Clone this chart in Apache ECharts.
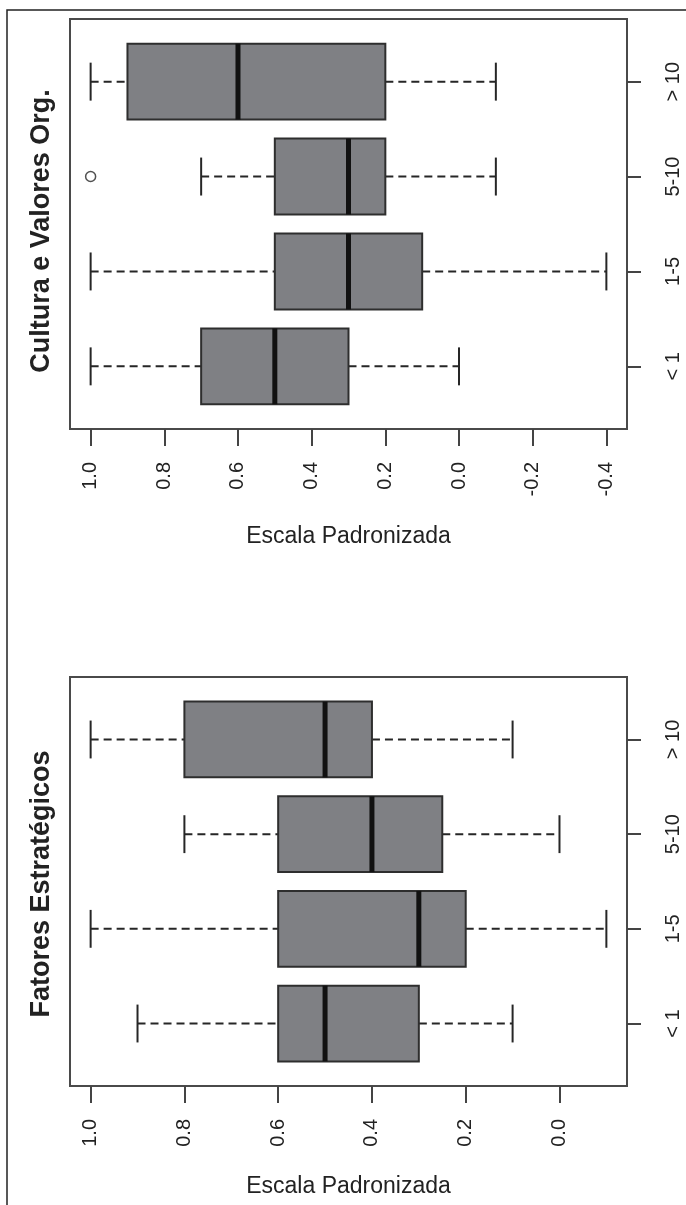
<!DOCTYPE html>
<html>
<head>
<meta charset="utf-8">
<script src="https://cdn.jsdelivr.net/npm/echarts@6/dist/echarts.min.js"></script>
<style>
html,body{margin:0;padding:0;background:#fff;}
#chart{width:686px;height:1205px;}
</style>
</head>
<body>
<div id="chart"></div>
<script>
// ---- data ----
const categories = ['< 1', '1-5', '5-10', '> 10'];
// [lower whisker, Q1, median, Q3, upper whisker]
const culturaStats = [
  [0.0, 0.3, 0.5, 0.7, 1.0],
  [-0.4, 0.1, 0.3, 0.5, 1.0],
  [-0.1, 0.2, 0.3, 0.5, 0.7],
  [-0.1, 0.2, 0.6, 0.9, 1.0]
];
const culturaOutliers = [['5-10', 1.0]];
const fatoresStats = [
  [0.1, 0.3, 0.5, 0.6, 0.9],
  [-0.1, 0.2, 0.3, 0.6, 1.0],
  [0.0, 0.25, 0.4, 0.6, 0.8],
  [0.1, 0.4, 0.5, 0.8, 1.0]
];
const fatoresOutliers = [];
const culturaTicks = [1.0, 0.8, 0.6, 0.4, 0.2, 0.0, -0.2, -0.4];
const fatoresTicks = [1.0, 0.8, 0.6, 0.4, 0.2, 0.0];
const titles = ['Cultura e Valores Org.', 'Fatores Estratégicos'];
const axisName = 'Escala Padronizada';

// ---- chart ----
const FONT = '"Liberation Sans", Arial, sans-serif';
const catPos = categories.map((c, i) => i + 1);
const chart = echarts.init(document.getElementById('chart'), null, {renderer: 'canvas'});

function renderBox(params, api) {
  const pos = api.value(0);
  const lo = api.value(1), q1 = api.value(2), med = api.value(3), q3 = api.value(4), hi = api.value(5);
  const half = api.size([0, 0.4])[1];
  const cap = api.size([0, 0.2])[1];
  const c = v => api.coord([v, pos]);
  const pLo = c(lo), pQ1 = c(q1), pMed = c(med), pQ3 = c(q3), pHi = c(hi);
  const y = pMed[1];
  const dash = {stroke: '#262626', lineWidth: 2, lineDash: [8, 5]};
  const solid = {stroke: '#262626', lineWidth: 2};
  return {
    type: 'group',
    children: [
      {type: 'line', shape: {x1: pHi[0], y1: y, x2: pQ3[0], y2: y}, style: dash},
      {type: 'line', shape: {x1: pQ1[0], y1: y, x2: pLo[0], y2: y}, style: dash},
      {type: 'line', shape: {x1: pHi[0], y1: y - cap, x2: pHi[0], y2: y + cap}, style: solid},
      {type: 'line', shape: {x1: pLo[0], y1: y - cap, x2: pLo[0], y2: y + cap}, style: solid},
      {type: 'rect', shape: {x: Math.min(pQ1[0], pQ3[0]), y: y - half, width: Math.abs(pQ1[0] - pQ3[0]), height: 2 * half},
        style: {fill: '#7f8084', stroke: '#2e2e2e', lineWidth: 2}},
      {type: 'line', shape: {x1: pMed[0], y1: y - half, x2: pMed[0], y2: y + half}, style: {stroke: '#111', lineWidth: 5}}
    ]
  };
}

function mkX(gi, min, max, ticks, gap) {
  return {
    type: 'value', gridIndex: gi, inverse: true, min: min, max: max,
    splitLine: {show: false},
    axisLine: {show: false, onZero: false},
    axisTick: {show: true, length: 17, customValues: ticks, lineStyle: {color: '#444', width: 2}},
    axisLabel: {customValues: ticks, rotate: 90, margin: 33, fontSize: 20, color: '#222', fontFamily: FONT,
      formatter: v => (Math.abs(v) < 1e-9 ? 0 : v).toFixed(1)},
    name: axisName, nameLocation: 'middle', nameGap: gap,
    nameTextStyle: {fontSize: 23, color: '#222', fontFamily: FONT}
  };
}
function mkY(gi) {
  return {
    type: 'value', gridIndex: gi, position: 'right', min: 0.34, max: 4.66,
    splitLine: {show: false},
    axisLine: {show: false, onZero: false},
    axisTick: {show: true, length: 14, customValues: catPos, lineStyle: {color: '#444', width: 2}},
    axisLabel: {customValues: catPos, rotate: 90, margin: 36, fontSize: 20, color: '#222', fontFamily: FONT,
      formatter: v => categories[Math.round(v) - 1]}
  };
}

const boxData = stats => stats.map((s, i) => [catPos[i]].concat(s));
const outData = outs => outs.map(o => [o[1], categories.indexOf(o[0]) + 1]);

const option = {
  animation: false,
  backgroundColor: '#fff',
  grid: [
    {left: 70, top: 19, width: 557, height: 410, show: true, borderColor: '#4a4a4a', borderWidth: 2, backgroundColor: 'transparent'},
    {left: 70, top: 677, width: 557, height: 409, show: true, borderColor: '#4a4a4a', borderWidth: 2, backgroundColor: 'transparent'}
  ],
  xAxis: [mkX(0, -0.456, 1.056, culturaTicks, 96), mkX(1, -0.144, 1.044, fatoresTicks, 89)],
  yAxis: [mkY(0), mkY(1)],
  series: [
    {type: 'custom', xAxisIndex: 0, yAxisIndex: 0, renderItem: renderBox, data: boxData(culturaStats),
      encode: {x: [1, 2, 3, 4, 5], y: 0}},
    {type: 'scatter', xAxisIndex: 0, yAxisIndex: 0, data: outData(culturaOutliers), symbol: 'circle', symbolSize: 10,
      itemStyle: {color: '#fff', borderColor: '#262626', borderWidth: 1.5}},
    {type: 'custom', xAxisIndex: 1, yAxisIndex: 1, renderItem: renderBox, data: boxData(fatoresStats),
      encode: {x: [1, 2, 3, 4, 5], y: 0}},
    {type: 'scatter', xAxisIndex: 1, yAxisIndex: 1, data: outData(fatoresOutliers), symbol: 'circle', symbolSize: 10,
      itemStyle: {color: '#fff', borderColor: '#262626', borderWidth: 1.5}}
  ],
  graphic: [
    {type: 'rect', shape: {x: 7, y: 10, width: 720, height: 1260}, style: {fill: 'none', stroke: '#222', lineWidth: 1.5}, silent: true},
    {type: 'text', x: 42, y: 231, rotation: Math.PI / 2,
      style: {text: titles[0], font: 'bold 27px ' + FONT, fill: '#222', textAlign: 'center', textVerticalAlign: 'middle'}},
    {type: 'text', x: 42, y: 884, rotation: Math.PI / 2,
      style: {text: titles[1], font: 'bold 27px ' + FONT, fill: '#222', textAlign: 'center', textVerticalAlign: 'middle'}}
  ]
};
chart.setOption(option);
</script>
</body>
</html>
